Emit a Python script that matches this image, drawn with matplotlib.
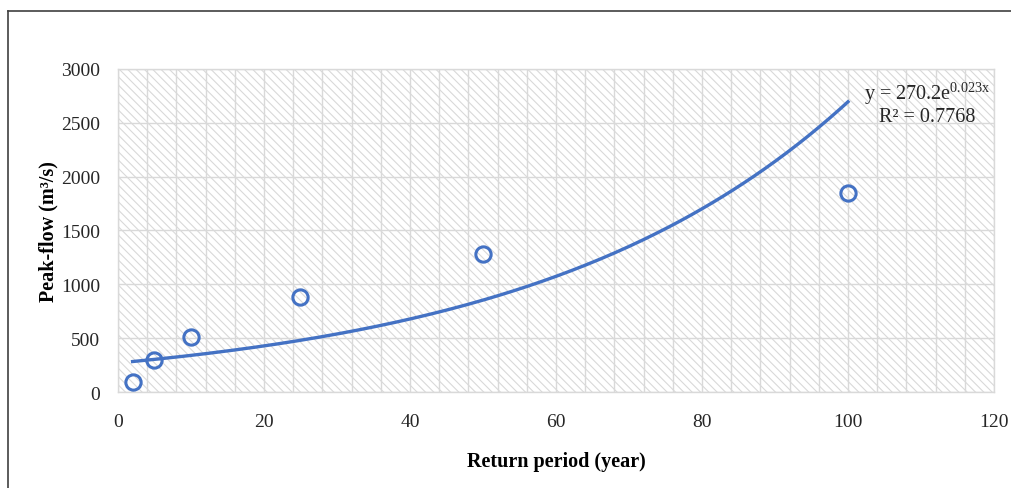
import matplotlib.pyplot as plt
import numpy as np
from matplotlib.patches import Rectangle
from matplotlib.lines import Line2D

# Peak flow for each return period
return_period = [2, 5, 10, 25, 50, 100]
peak_flow = [95, 300, 510, 880, 1280, 1850]

# Exponential trendline y = a * exp(b x)
trend_a = 270.2
trend_b = 0.023
r_squared = 0.7768

x_ticks = [0, 20, 40, 60, 80, 100, 120]
y_ticks = [0, 500, 1000, 1500, 2000, 2500, 3000]

blue = "#4472C4"
grid_grey = "#d9d9d9"

plt.rcParams["font.family"] = ["Liberation Serif", "DejaVu Serif"]
plt.rcParams["mathtext.fontset"] = "custom"
plt.rcParams["mathtext.rm"] = "Liberation Serif"
plt.rcParams["hatch.color"] = "#d9d9d9"
plt.rcParams["hatch.linewidth"] = 0.8

fig = plt.figure(figsize=(10.11, 4.89), dpi=100)
ax = fig.add_axes([0.1167, 0.1963, 0.8665, 0.6607])

# hatched plot area
ax.add_patch(Rectangle((0, 0), 1, 1, transform=ax.transAxes, facecolor="white",
                       edgecolor="#d9d9d9", hatch="\\\\\\\\", linewidth=0, zorder=0))

ax.set_xlim(0, 120)
ax.set_ylim(0, 3000)
ax.set_xticks(x_ticks)
ax.set_yticks(y_ticks)
ax.set_xticks(np.arange(0, 121, 4), minor=True)
ax.grid(True, which="major", axis="y", color=grid_grey, linewidth=1, zorder=1)
ax.grid(True, which="both", axis="x", color=grid_grey, linewidth=1, zorder=1)
ax.set_axisbelow(True)
ax.tick_params(which="both", length=0, labelsize=14, colors="#262626")
ax.tick_params(axis="x", pad=15)
ax.tick_params(axis="y", pad=13)
for s in ax.spines.values():
    s.set_color(grid_grey)
    s.set_linewidth(1)

xs = np.linspace(min(return_period), max(return_period), 200)
ax.plot(xs, trend_a * np.exp(trend_b * xs), color=blue, linewidth=2.4, zorder=3)
ax.plot(return_period, peak_flow, linestyle="none", marker="o", markersize=11,
        markerfacecolor="none", markeredgecolor=blue, markeredgewidth=2.2, zorder=4)

ax.text(110.8, 2725, r"y = 270.2e$^{\mathregular{0.023x}}$", ha="center", fontsize=14.5, color="#262626")
ax.text(110.8, 2520, f"R² = {r_squared}", ha="center", fontsize=14.5, color="#262626")

ax.set_xlabel("Return period (year)", fontsize=14.5, fontweight="bold", labelpad=15)
ax.set_ylabel("Peak-flow (m³/s)", fontsize=14.5, fontweight="bold", labelpad=2)

# outer chart frame (top and left edges)
fy = 1 - 12 / 489
fx = 8 / 1011
fig.add_artist(Line2D([fx, fx], [0, fy], transform=fig.transFigure, color="#404040", linewidth=1.2))
fig.add_artist(Line2D([fx, 1], [fy, fy], transform=fig.transFigure, color="#404040", linewidth=1.2))

fig.savefig("out.png", dpi=100)
